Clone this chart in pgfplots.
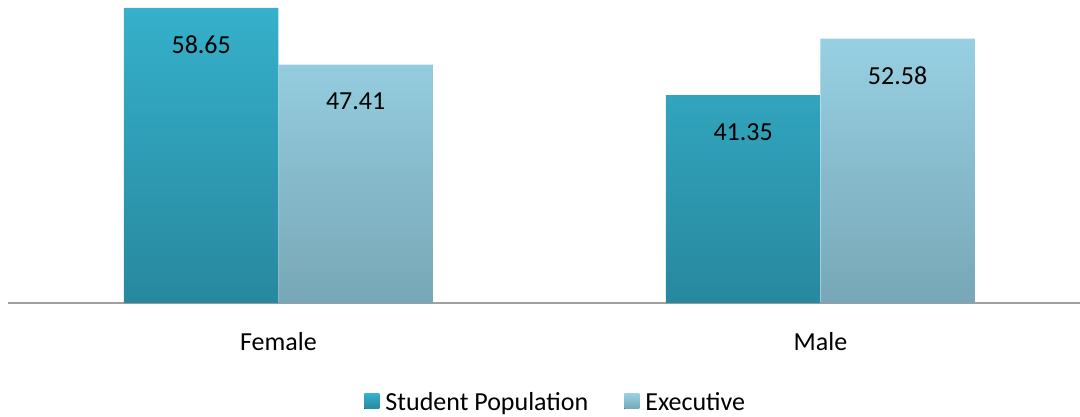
\documentclass[border=0pt]{standalone}
\usepackage{pgfplots}
\pgfplotsset{compat=1.18}
\usepackage{fontspec}
\setmainfont{Carlito}
\definecolor{stutop}{HTML}{36B0CB}
\definecolor{stubot}{HTML}{27889E}
\definecolor{exetop}{HTML}{97D0E3}
\definecolor{exebot}{HTML}{77A7B6}
\definecolor{axgray}{HTML}{A0A0A0}
\begin{document}
\fontsize{26}{31}\selectfont
\begin{tikzpicture}
\useasboundingbox (0,0) rectangle (1080pt,416pt);
\begin{axis}[
  at={(8pt,113pt)}, anchor=south west,
  scale only axis, width=1072pt, height=303pt,
  ybar=0pt, bar width=0.285,
  xmin=-0.499, xmax=1.479,
  ymin=0, ymax=60.24,
  axis y line=none,
  axis x line*=bottom,
  x axis line style={draw=axgray, line width=2pt, -},
  xtick=data, xticklabels={Female,Male},
  major tick length=0pt,
  xticklabel style={yshift=-21pt, font=\fontsize{26}{31}\selectfont},
  nodes near coords,
  nodes near coords style={anchor=center, yshift=-37pt, font=\fontsize{26}{31}\selectfont},
  point meta=explicit symbolic,
  legend style={at={(0.511,-0.333)}, anchor=center, draw=none, legend columns=2, font=\fontsize{26}{31}\selectfont, /tikz/every even column/.append style={column sep=34pt}},
  legend cell align=left,
  clip=false,
]
\addplot[draw=none, top color=stutop, bottom color=stubot,
  legend image code/.code={\path (0pt,0pt) -- (19pt,0pt); \fill[top color=stutop, bottom color=stubot] (0pt,-5pt) rectangle (15pt,10pt);}]
  coordinates {(0,58.65)[58.65] (1,41.35)[41.35]};
\addplot[draw=none, top color=exetop, bottom color=exebot,
  legend image code/.code={\path (0pt,0pt) -- (19pt,0pt); \fill[top color=exetop, bottom color=exebot] (0pt,-5pt) rectangle (15pt,10pt);}]
  coordinates {(0,47.41)[47.41] (1,52.58)[52.58]};
\legend{Student Population, Executive}
\end{axis}
\end{tikzpicture}
\end{document}
